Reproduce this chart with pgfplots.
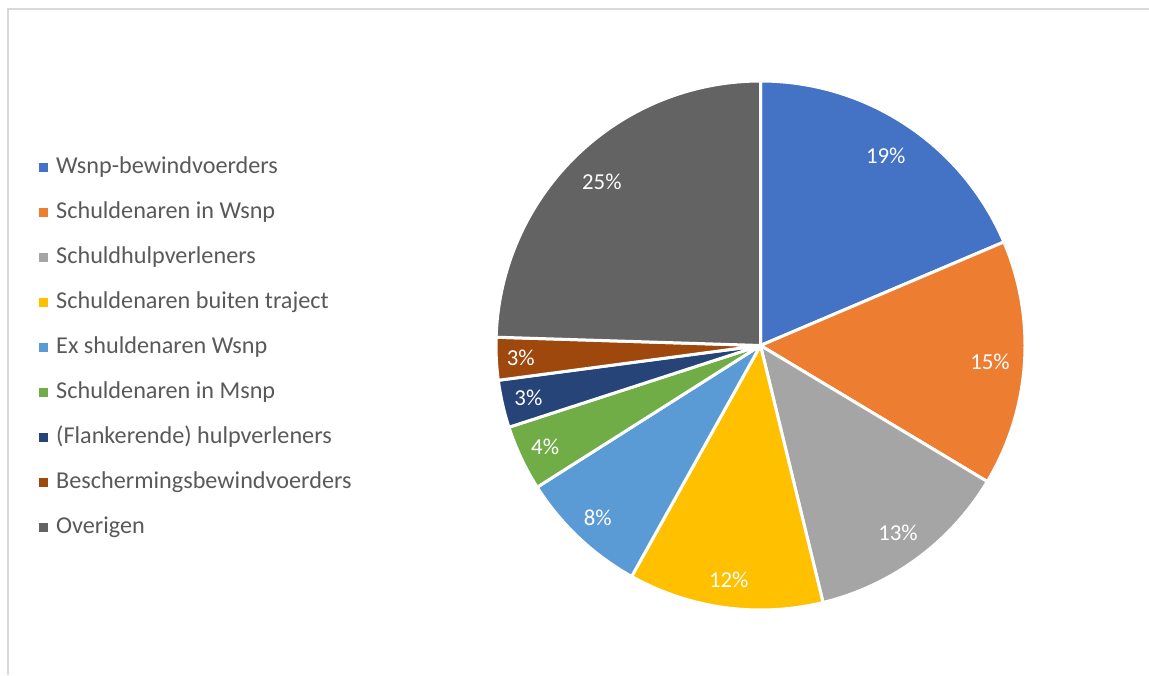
\documentclass[border=0pt]{standalone}
\usepackage{fontspec}
\setmainfont{Carlito}
\usepackage{pgfplots}
\usepackage{pgfplotstable}
\pgfplotsset{compat=1.18}
\definecolor{c1}{HTML}{4472C4}
\definecolor{c2}{HTML}{ED7D31}
\definecolor{c3}{HTML}{A5A5A5}
\definecolor{c4}{HTML}{FFC000}
\definecolor{c5}{HTML}{5B9BD5}
\definecolor{c6}{HTML}{70AD47}
\definecolor{c7}{HTML}{264478}
\definecolor{c8}{HTML}{9E480E}
\definecolor{c9}{HTML}{636363}
\definecolor{legtext}{HTML}{595959}
\definecolor{frame}{HTML}{D9D9D9}
\newcommand\labfont{\fontsize{22.8}{27}\selectfont}
\newcommand\legfont{\fontsize{24.2}{29}\selectfont}

% share (%) of each group, label radius (px), colour, name
\pgfplotstableread[col sep=comma]{
pct,lr,col,label
18.6,227,c1,Wsnp-bewindvoerders
15.0,230,c2,Schuldenaren in Wsnp
12.6,232,c3,Schuldhulpverleners
11.9,236,c4,Schuldenaren buiten traject
7.9,237,c5,Ex shuldenaren Wsnp
4.0,238,c6,Schuldenaren in Msnp
2.9,238,c7,(Flankerende) hulpverleners
2.6,240,c8,Beschermingsbewindvoerders
24.5,228,c9,Overigen
}\piedata

\begin{document}
\begin{tikzpicture}
\begin{axis}[
  hide axis, scale only axis,
  width=1149pt, height=675pt,
  xmin=0, xmax=1149, ymin=0, ymax=675,
  clip=false,
  /pgf/number format/assume math mode=true,
  legend cell align=left,
  legend image code/.code={\fill[#1, draw=none] (0pt,-4.5pt) rectangle (9pt,4.5pt);},
  legend style={
    at={(axis cs:39,519)}, anchor=north west,
    draw=none, fill=none, inner sep=0pt,
    font=\legfont, text=legtext,
    row sep=22pt, column sep=8pt,
    nodes={inner sep=0pt, text height=17pt, text depth=6pt},
  },
]
\draw[frame, line width=2pt] (axis cs:7.5,0) -- (axis cs:7.5,665.5) -- (axis cs:1149,665.5);
\def\cum{0}
\pgfplotsforeachungrouped \i in {0,...,8}{%
  \pgfplotstablegetelem{\i}{pct}\of\piedata \let\v\pgfplotsretval
  \pgfplotstablegetelem{\i}{lr}\of\piedata \let\lr\pgfplotsretval
  \pgfplotstablegetelem{\i}{col}\of\piedata \let\c\pgfplotsretval
  \pgfplotstablegetelem{\i}{label}\of\piedata \let\lab\pgfplotsretval
  \pgfmathsetmacro\a{90-3.6*\cum}%
  \pgfmathsetmacro\cum{\cum+\v}%
  \pgfmathsetmacro\b{90-3.6*\cum}%
  \pgfmathsetmacro\m{(\a+\b)/2}%
  \pgfmathsetmacro\lx{760.5+\lr*cos(\m)}%
  \pgfmathsetmacro\ly{329.5+\lr*sin(\m)}%
  \edef\cmd{%
    \noexpand\addplot[fill=\c, draw=white, line width=3pt, line join=round, domain=\b:\a, samples=90]
      ({760.5+264.5*cos(x)},{329.5+264.5*sin(x)}) -- (axis cs:760.5,329.5) -- cycle;
    \noexpand\addlegendentry{\lab}
    \noexpand\node[text=white, font=\noexpand\labfont] at (axis cs:\lx,\ly)
      {\noexpand\pgfmathprintnumber[fixed,precision=0]{\v}\noexpand\%};
  }%
  \cmd
}
\end{axis}
\pgfresetboundingbox
\path (current axis.south west) rectangle (current axis.north east);
\end{tikzpicture}
\end{document}
